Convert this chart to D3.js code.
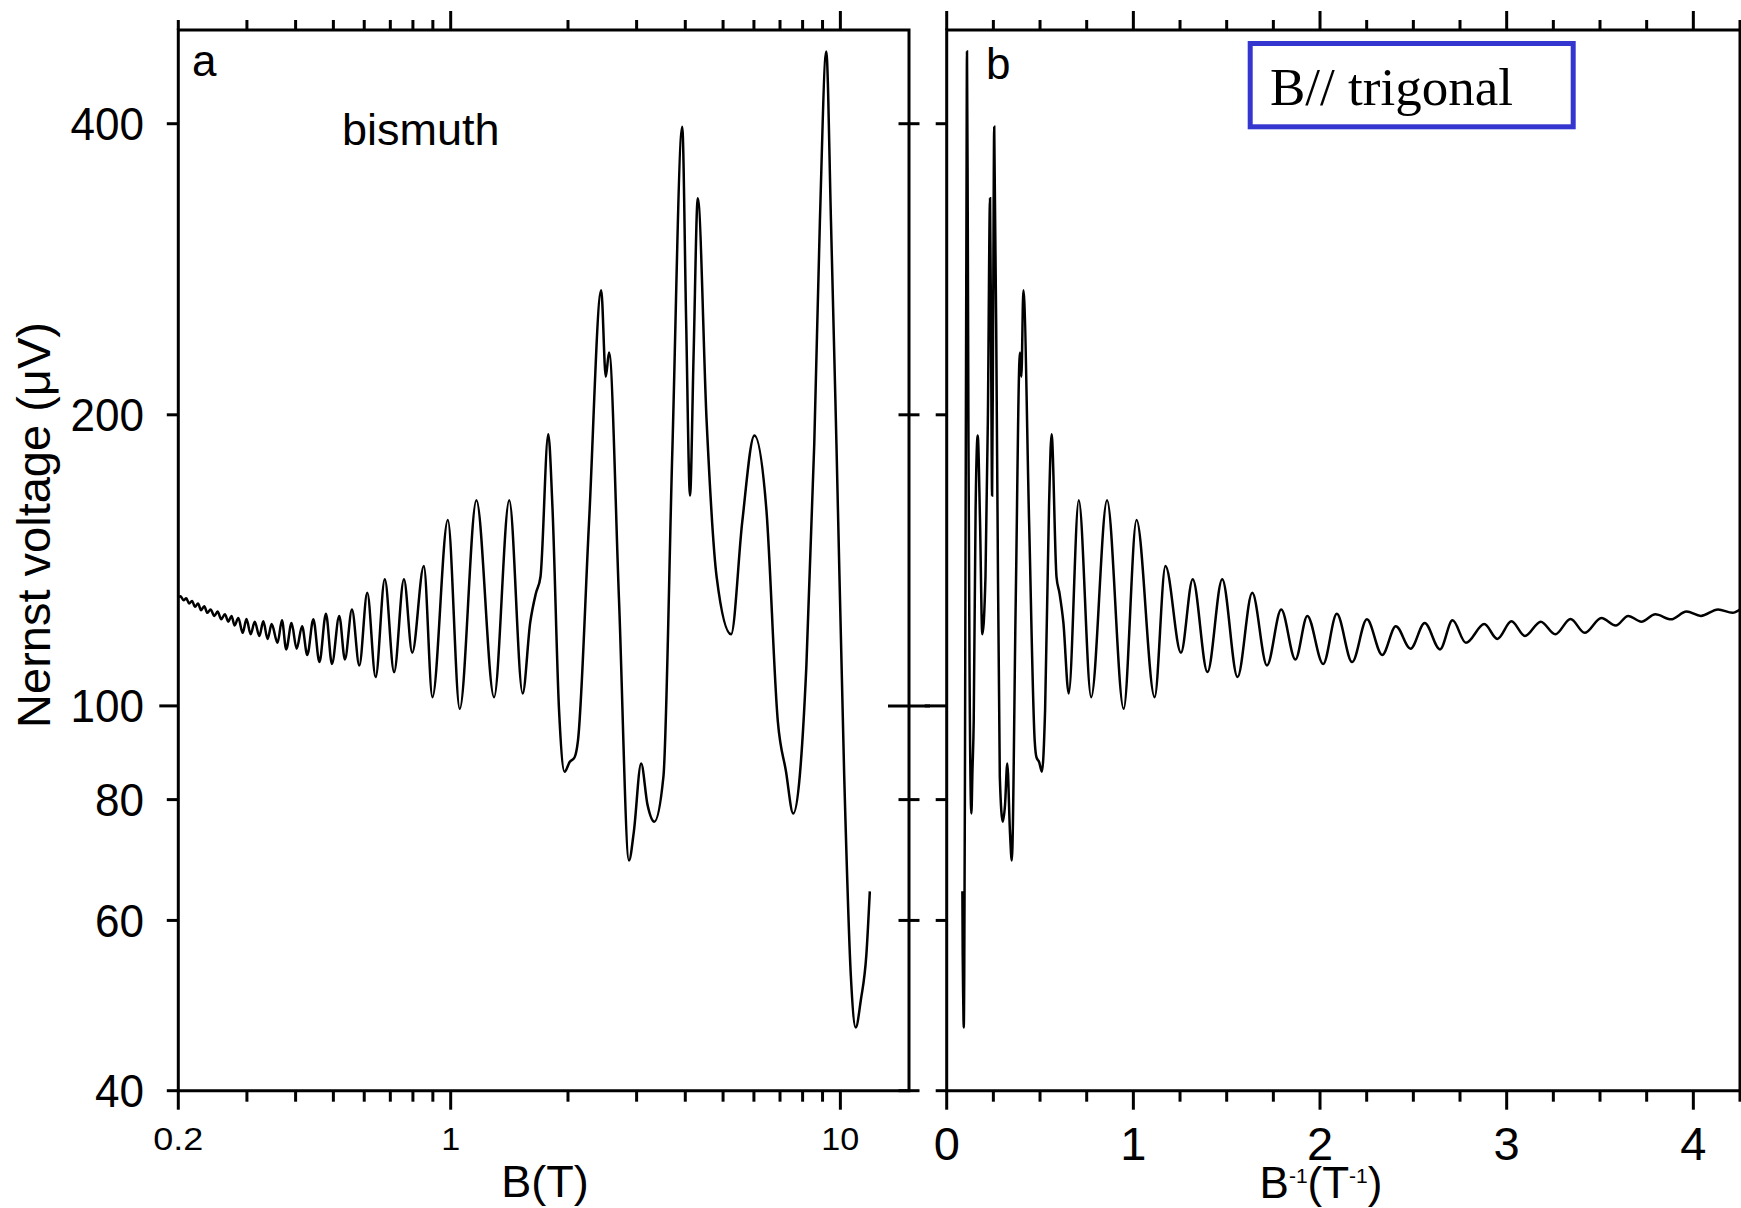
<!DOCTYPE html>
<html>
<head>
<meta charset="utf-8">
<script src="https://cdn.jsdelivr.net/npm/d3@7"></script>
<style>
body { margin: 0; background: #fff; }
svg text { font-family: "Liberation Sans", Arial, sans-serif; fill: #000; }
</style>
</head>
<body>
<svg id="chart" width="1741" height="1208"></svg>
<script>
// B (tesla) and Nernst voltage (uV), low field to high field
var fieldB = [0.200, 0.2028, 0.2062, 0.2096, 0.2132, 0.2169, 0.2208, 0.2247, 0.2288, 0.2331,
    0.2375, 0.2420, 0.2475, 0.2523, 0.2577, 0.2634, 0.2687, 0.2739, 0.2790, 0.2851,
    0.2926, 0.2992, 0.3067, 0.3142, 0.3228, 0.3305, 0.3390, 0.3472, 0.3595, 0.3690,
    0.3784, 0.3905, 0.4024, 0.4156, 0.4286, 0.4442, 0.4604, 0.4785, 0.4958, 0.5176,
    0.5353, 0.5580, 0.5828, 0.6109, 0.6418, 0.6775, 0.7158, 0.7587, 0.7968, 0.8532,
    0.8977, 0.9833, 1.0549, 1.1641, 1.2920, 1.4134, 1.53, 1.60, 1.654, 1.70,
    1.78, 1.824, 1.897, 1.96, 2.02, 2.08, 2.121, 2.265, 2.434, 2.50,
    2.549, 2.703, 2.868, 2.95, 3.081, 3.20, 3.33, 3.515, 3.703, 3.928,
    4.02, 4.113, 4.20, 4.306, 4.537, 4.813, 5.243, 5.6, 6.017, 6.46,
    6.91, 7.25, 7.568, 8.18, 8.57, 8.86, 9.2, 9.46, 9.77, 10.23,
    10.64, 10.95, 11.29, 11.66, 11.9];
var nernstV = [129.5, 129.8, 128.6, 129.2, 127.6, 128.4, 126.6, 127.6, 125.6, 126.8,
    124.8, 125.8, 123.9, 125.2, 122.9, 124.4, 122.2, 123.9, 121.1, 123.3,
    119.0, 123.0, 118.6, 122.2, 118.1, 122.3, 117.3, 121.5, 116.2, 122.6,
    114.4, 121.8, 114.6, 120.9, 112.9, 122.9, 111.0, 124.5, 110.5, 123.9,
    111.7, 125.8, 110.1, 130.9, 107.1, 135.2, 108.4, 135.2, 113.5, 139.5,
    102.1, 155.7, 99.3, 163.2, 102.1, 163.2, 103, 122, 130.7, 136,
    191, 161, 99, 85.5, 87.5, 88.5, 92, 155, 269, 219,
    232, 129, 69.2, 74, 87.2, 79, 75.9, 84.5, 182, 397,
    250, 165, 230, 335, 197, 136, 118.6, 155, 190.4, 159.4,
    96.4, 85.6, 77.4, 110, 186.7, 317, 475, 317, 186.7, 84.5,
    52.5, 46.5, 49.7, 55.3, 64.3];

var yTicks = [40, 60, 80, 100, 200, 400];
var bMajor = [0.2, 1, 10];
var bMinor = [0.3, 0.4, 0.5, 0.6, 0.7, 0.8, 0.9, 2, 3, 4, 5, 6, 7, 8, 9];
var bLabels = ["0.2", "1", "10"];
var invMajor = [0, 1, 2, 3, 4];
var invMinor = [0.25, 0.5, 0.75, 1.25, 1.5, 1.75, 2.25, 2.5, 2.75, 3.25, 3.5, 3.75, 4.25];

var svg = d3.select("#chart");

var top_ = 30, bottom = 1090.7;
var xL = d3.scaleLog().domain([0.2, 15]).range([178.3, 909]);
var xR = d3.scaleLinear().domain([0, 4.25]).range([946.7, 1740]);
var y = d3.scaleLog().domain([40, 500]).range([bottom, top_]);

var pts = fieldB.map(function(b, i) { return { b: b, v: nernstV[i] }; });
var ptsInv = pts.map(function(d) { return { u: 1 / d.b, v: d.v }; })
    .sort(function(a, b) { return a.u - b.u; });

var defs = svg.append("defs");
defs.append("clipPath").attr("id", "clipL").append("rect")
    .attr("x", xL(0.2)).attr("y", top_).attr("width", xL(15) - xL(0.2)).attr("height", bottom - top_);
defs.append("clipPath").attr("id", "clipR").append("rect")
    .attr("x", xR(0)).attr("y", top_).attr("width", xR(4.25) - xR(0)).attr("height", bottom - top_);

// curves
var lineL = d3.line().x(function(d) { return xL(d.b); }).y(function(d) { return y(d.v); })
    .curve(d3.curveMonotoneX);
var lineR = d3.line().x(function(d) { return xR(d.u); }).y(function(d) { return y(d.v); })
    .curve(d3.curveMonotoneX);

svg.append("path").datum(pts).attr("d", lineL).attr("clip-path", "url(#clipL)")
    .attr("fill", "none").attr("stroke", "#000").attr("stroke-width", 2.5);
svg.append("path").datum(ptsInv).attr("d", lineR).attr("clip-path", "url(#clipR)")
    .attr("fill", "none").attr("stroke", "#000").attr("stroke-width", 2.5);

var ax = svg.append("g").attr("stroke", "#000").attr("stroke-width", 3).attr("fill", "none");

function frame(x0, x1) {
    ax.append("path").attr("d", "M" + x0 + "," + top_ + "V" + bottom + "H" + x1 + "V" + top_ + "Z")
        .attr("stroke-linejoin", "miter");
}
frame(xL(0.2), xL(15));
frame(xR(0), xR(4.25));

function vticks(scale, vals, y0, len) {
    ax.selectAll(null).data(vals).enter().append("line")
        .attr("x1", function(d) { return scale(d); }).attr("x2", function(d) { return scale(d); })
        .attr("y1", y0).attr("y2", y0 + len);
}
// left panel x ticks
vticks(xL, bMajor, bottom, 19);
vticks(xL, bMinor, bottom, 11);
vticks(xL, [1, 10], top_, -19);
vticks(xL, bMinor.concat([0.2]), top_, -10);
// right panel x ticks
vticks(xR, invMajor, bottom, 19);
vticks(xR, invMinor, bottom, 11);
vticks(xR, invMajor, top_, -19);
vticks(xR, invMinor, top_, -10);

// y ticks
function hticks(x0, x1, vals) {
    ax.selectAll(null).data(vals).enter().append("line")
        .attr("x1", x0).attr("x2", x1)
        .attr("y1", function(d) { return y(d); }).attr("y2", function(d) { return y(d); });
}
var minorY = yTicks.filter(function(d) { return d !== 100; });
hticks(xL(0.2) - 11.5, xL(0.2), minorY);
hticks(xL(0.2) - 19, xL(0.2), [100]);
hticks(xL(15) - 10.5, xL(15) + 10.5, minorY);
hticks(xL(15) - 21, xL(15) + 21, [100]);
hticks(xR(0) - 11, xR(0), minorY);
hticks(xR(0) - 22, xR(0), [100]);

// tick labels (the source font is a little condensed, so widths are set explicitly)
svg.selectAll(null).data(yTicks).enter().append("text")
    .attr("x", 144).attr("y", function(d) { return y(d); }).attr("dy", "0.35em")
    .attr("text-anchor", "end").style("font-size", "46px")
    .attr("textLength", function(d) { return String(d).length * 24.5; })
    .attr("lengthAdjust", "spacingAndGlyphs")
    .text(function(d) { return d; });
svg.selectAll(null).data(bMajor).enter().append("text")
    .attr("x", function(d) { return xL(d); }).attr("y", 1150)
    .attr("text-anchor", "middle").style("font-size", "31px")
    .attr("textLength", function(d, i) { return bLabels[i].length === 3 ? 50 : bLabels[i].length * 19; })
    .attr("lengthAdjust", "spacingAndGlyphs")
    .text(function(d, i) { return bLabels[i]; });
svg.selectAll(null).data(invMajor).enter().append("text")
    .attr("x", function(d) { return xR(d); }).attr("y", 1160)
    .attr("text-anchor", "middle").style("font-size", "47px")
    .text(function(d) { return d; });

// axis titles
svg.append("text").attr("x", 545).attr("y", 1197).attr("text-anchor", "middle")
    .style("font-size", "45px").text("B(T)");
var t2 = svg.append("text").attr("x", 1321).attr("y", 1198).attr("text-anchor", "middle")
    .style("font-size", "44px");
t2.append("tspan").text("B");
t2.append("tspan").attr("dy", -15).style("font-size", "21px").text("-1");
t2.append("tspan").attr("dy", 15).text("(T");
t2.append("tspan").attr("dy", -15).style("font-size", "21px").text("-1");
t2.append("tspan").attr("dy", 15).text(")");

svg.append("text").attr("transform", "translate(50,525) rotate(-90)")
    .attr("text-anchor", "middle").style("font-size", "47px")
    .text("Nernst voltage (\u03bcV)");

// panel annotations
svg.append("text").attr("x", 192).attr("y", 76).style("font-size", "44px").text("a");
svg.append("text").attr("x", 986).attr("y", 79).style("font-size", "44px").text("b");
svg.append("text").attr("x", 342).attr("y", 145).style("font-size", "45px").text("bismuth");

svg.append("rect").attr("x", 1250.2).attr("y", 43.5).attr("width", 323).attr("height", 83.3)
    .attr("fill", "#fff").attr("stroke", "#3535cf").attr("stroke-width", 5);
svg.append("text").attr("x", 1270).attr("y", 105)
    .style("font-family", "'Liberation Serif', 'Times New Roman', serif").style("font-size", "53px")
    .text("B// trigonal");
</script>
</body>
</html>
